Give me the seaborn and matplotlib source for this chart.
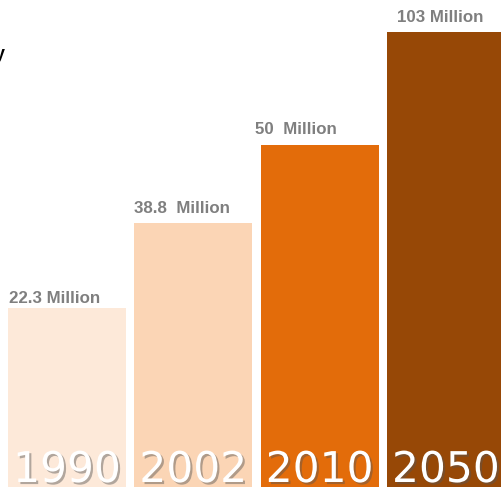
import matplotlib
matplotlib.use("Agg")
import matplotlib.pyplot as plt
import matplotlib.patheffects as pe
import seaborn as sns
import pandas as pd

# ---- data ----
years = ["1990", "2002", "2010", "2050"]
population_millions = [22.3, 38.8, 50, 103]
value_labels = ["22.3 Million", "38.8  Million", "50  Million", "103 Million"]
# bar heights as drawn in the graphic (relative, tallest = 100; not proportional to values)
bar_heights = [39.3, 58.0, 75.2, 100.0]
bar_colors = ["#FDE9D9", "#FBD5B5", "#E36C0A", "#974806"]

df = pd.DataFrame({"year": years, "height": bar_heights, "value": population_millions})

sns.set_theme(style="white")
plt.rcParams["font.family"] = ["DejaVu Sans"]

W, H, DPI = 502, 491, 100
fig = plt.figure(figsize=(W / DPI, H / DPI), dpi=DPI)
ax = fig.add_axes([0, 0, 1, 1])

sns.barplot(data=df, x="year", y="height", hue="year", palette=bar_colors,
            width=0.934, legend=False, ax=ax, saturation=1, edgecolor="none")

px_per_x = 126.33
px_per_y = 4.55
ax.set_xlim(-67 / px_per_x, (W - 67) / px_per_x)
ax.set_ylim(-4 / px_per_y, 487 / px_per_y)
ax.set_axis_off()

# value labels above bars
label_dx_px = [1, 0, -6, 10]
label_gap_px = [5, 10, 11, 10]
for i, (h, lab) in enumerate(zip(bar_heights, value_labels)):
    left = i - 0.934 / 2
    ax.annotate(lab, xy=(left, h), xytext=(label_dx_px[i] * 0.72, label_gap_px[i] * 0.72),
                textcoords="offset points", ha="left", va="baseline",
                fontsize=12.2, fontweight="bold", color="#7F7F7F",
                family="Liberation Sans")

# year labels inside bars
for i, yr in enumerate(years):
    ax.text(i, 5 / px_per_y, yr, ha="center", va="baseline", fontsize=30.5,
            color="white", family="DejaVu Sans",
            path_effects=[pe.SimplePatchShadow(offset=(1.5, -1.5), shadow_rgbFace="#555555", alpha=0.45),
                          pe.Normal()])

# clipped title fragment at top-left
fig.text(4.5 / W, 1 - 59 / H, "y", ha="right", va="baseline", fontsize=13,
         fontweight="bold", color="black", family="Liberation Sans")

fig.savefig("out.png", dpi=DPI)
